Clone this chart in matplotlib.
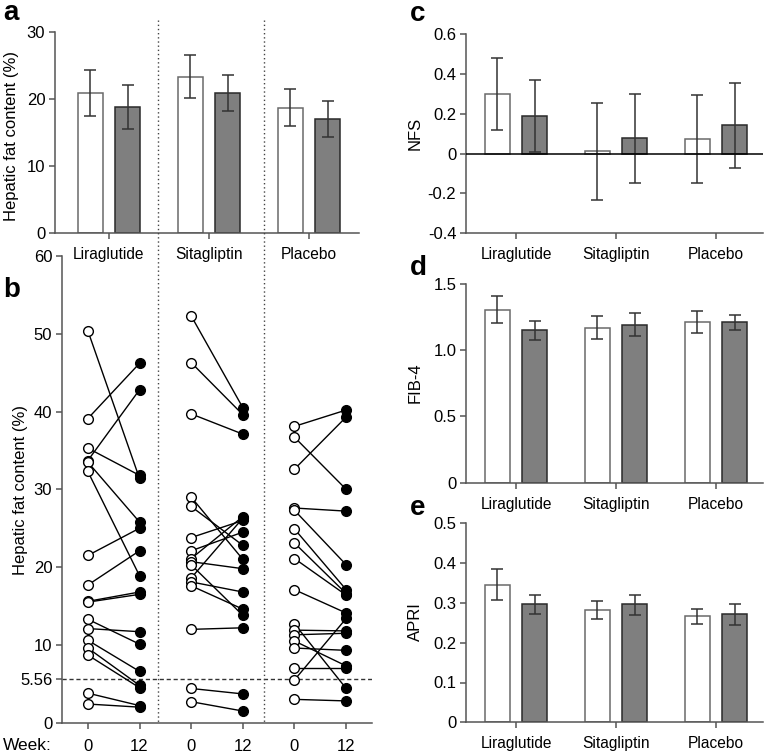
import matplotlib
matplotlib.use("Agg")
import matplotlib.pyplot as plt
from matplotlib.lines import Line2D

plt.rcParams['font.family'] = ['Liberation Sans', 'DejaVu Sans']
plt.rcParams['font.size'] = 12

groups = ["Liraglutide", "Sitagliptin", "Placebo"]

# Panel a: hepatic fat content (%), week 0 / week 12, mean with error bars
hfc_w0 = [20.9, 23.4, 18.75]
hfc_w0_lo = [17.5, 20.2, 16.0]
hfc_w0_hi = [24.3, 26.6, 21.5]
hfc_w12 = [18.8, 21.0, 17.1]
hfc_w12_lo = [15.5, 18.3, 14.3]
hfc_w12_hi = [22.1, 23.7, 19.75]

# Panel c: NFS
nfs_w0 = [0.298, 0.012, 0.072]
nfs_w0_lo = [0.119, -0.232, -0.148]
nfs_w0_hi = [0.481, 0.255, 0.293]
nfs_w12 = [0.189, 0.077, 0.143]
nfs_w12_lo = [0.01, -0.145, -0.07]
nfs_w12_hi = [0.369, 0.298, 0.357]

# Panel d: FIB-4
fib_w0 = [1.306, 1.170, 1.213]
fib_w0_lo = [1.203, 1.082, 1.133]
fib_w0_hi = [1.412, 1.256, 1.294]
fib_w12 = [1.153, 1.193, 1.211]
fib_w12_lo = [1.077, 1.107, 1.153]
fib_w12_hi = [1.223, 1.279, 1.264]

# Panel e: APRI
apri_w0 = [0.346, 0.282, 0.266]
apri_w0_lo = [0.307, 0.260, 0.248]
apri_w0_hi = [0.384, 0.304, 0.284]
apri_w12 = [0.296, 0.296, 0.271]
apri_w12_lo = [0.272, 0.270, 0.245]
apri_w12_hi = [0.321, 0.320, 0.296]

# Panel b: individual hepatic fat content, paired week 0 -> week 12
lira_w0 = [50.4, 39.1, 35.3, 33.7, 33.5, 32.3, 21.5, 17.7, 15.6, 15.5, 13.3, 12.1, 10.6, 9.6, 8.7, 3.8, 2.4]
lira_w12 = [31.4, 46.2, 31.8, 42.8, 25.8, 18.9, 25.0, 22.1, 16.8, 16.5, 10.1, 11.7, 6.6, 4.8, 4.5, 2.2, 2.0]
sita_w0 = [52.3, 46.3, 39.7, 29.0, 27.8, 23.8, 22.1, 21.1, 20.7, 20.3, 18.6, 18.1, 17.6, 12.0, 4.4, 2.7]
sita_w12 = [40.5, 39.6, 37.1, 21.0, 22.8, 26.0, 24.5, 26.5, 19.8, 13.8, 26.3, 16.8, 14.6, 12.2, 3.7, 1.5]
plac_w0 = [38.1, 36.7, 32.6, 27.6, 27.3, 24.9, 23.1, 21.1, 17.1, 12.7, 11.9, 11.3, 10.5, 9.6, 7.0, 5.5, 3.0]
plac_w12 = [40.2, 30.0, 39.3, 27.2, 20.3, 17.1, 16.6, 16.4, 14.1, 4.4, 11.8, 11.5, 7.3, 9.3, 7.0, 13.4, 2.8]
threshold = 5.56
week_labels = ["0", "12", "0", "12", "0", "12"]

W, H = 767, 754
fig = plt.figure(figsize=(W / 100, H / 100), dpi=100)


def rect(l, r, t, b):
    return [l / W, 1 - b / H, (r - l) / W, (b - t) / H]


def place_ylabel(ax, text, xc, yc):
    # xc: desired horizontal centre of the rotated label (px); label anchor is its right edge
    ax.set_ylabel(text)
    ax.yaxis.set_label_coords((xc + 7) / W, 1 - yc / H, transform=fig.transFigure)


SPINE = "#555555"
XTICK_FS = 11.2


def style(ax):
    for s in ["top", "right"]:
        ax.spines[s].set_visible(False)
    for s in ["left", "bottom"]:
        ax.spines[s].set_color(SPINE)
        ax.spines[s].set_linewidth(1.1)
    ax.tick_params(direction="out", length=4, width=1.1, color=SPINE, pad=3)
    ax.tick_params(axis="x", labelsize=XTICK_FS)


def bars(ax, w0, lo0, hi0, w12, lo12, hi12):
    xs = list(range(len(groups)))
    off, bw = 0.187, 0.25
    x0 = [x - off for x in xs]
    x1 = [x + off for x in xs]
    ax.bar(x0, w0, width=bw, color="white", edgecolor="#6a6a6a", linewidth=1.1, zorder=2)
    ax.bar(x1, w12, width=bw, color="#7f7f7f", edgecolor="#2a2a2a", linewidth=1.1, zorder=2)
    e0 = [[m - l for m, l in zip(w0, lo0)], [h - m for m, h in zip(w0, hi0)]]
    e1 = [[m - l for m, l in zip(w12, lo12)], [h - m for m, h in zip(w12, hi12)]]
    ax.errorbar(x0, w0, yerr=e0, fmt="none", ecolor="#333333", elinewidth=1.1, capsize=4, capthick=1.1, zorder=3)
    ax.errorbar(x1, w12, yerr=e1, fmt="none", ecolor="#333333", elinewidth=1.1, capsize=4, capthick=1.1, zorder=3)
    ax.set_xticks(xs)
    ax.set_xticklabels(groups)


# Panel b (added first so panel a labels stay on top)
axb = fig.add_axes(rect(62, 372, 256, 722.7))
axb.patch.set_visible(False)
series = [(lira_w0, lira_w12), (sita_w0, sita_w12), (plac_w0, plac_w12)]
for g, (a0, a12) in enumerate(series):
    xa, xb = 2 * g, 2 * g + 1
    for v0, v1 in zip(a0, a12):
        axb.plot([xa, xb], [v0, v1], color="black", lw=1.0, zorder=2)
    axb.plot([xa] * len(a0), a0, "o", ms=7, mfc="white", mec="black", mew=1.0, zorder=3, linestyle="none")
    axb.plot([xb] * len(a12), a12, "o", ms=7, mfc="black", mec="black", mew=1.0, zorder=3, linestyle="none")
axb.axhline(threshold, color="#333333", lw=1.0, ls=(0, (3, 2)), zorder=1)
axb.set_xlim(-0.5, 5.5)
axb.set_ylim(0, 60)
axb.set_yticks([0, threshold, 10, 20, 30, 40, 50, 60])
axb.set_yticklabels(["0", "5.56", "10", "20", "30", "40", "50", "60"])
axb.set_xticks(range(6))
axb.set_xticklabels(week_labels)
place_ylabel(axb, "Hepatic fat content (%)", 21, 490)
style(axb)
axb.tick_params(axis="x", pad=8, labelsize=12)
fig.text(3 / W, 1 - 745 / H, "Week:", ha="left", va="center", fontsize=12.5)

# Panel a
axa = fig.add_axes(rect(55, 359, 32.3, 233.3))
axa.patch.set_visible(False)
bars(axa, hfc_w0, hfc_w0_lo, hfc_w0_hi, hfc_w12, hfc_w12_lo, hfc_w12_hi)
axa.set_xlim(-0.54, 2.5)
axa.set_ylim(0, 30)
axa.set_yticks([0, 10, 20, 30])
place_ylabel(axa, "Hepatic fat content (%)", 12, 136)
style(axa)
axa.tick_params(axis="x", pad=6)

# Panel c
axc = fig.add_axes(rect(466, 763, 34.3, 233.3))
bars(axc, nfs_w0, nfs_w0_lo, nfs_w0_hi, nfs_w12, nfs_w12_lo, nfs_w12_hi)
axc.axhline(0, color="black", lw=1.1, zorder=4)
axc.set_xlim(-0.5, 2.47)
axc.set_ylim(-0.4, 0.6)
axc.set_yticks([-0.4, -0.2, 0, 0.2, 0.4, 0.6])
axc.set_yticklabels(["-0.4", "-0.2", "0", "0.2", "0.4", "0.6"])
place_ylabel(axc, "NFS", 416, 133)
style(axc)
axc.tick_params(axis="x", pad=6)

# Panel d
axd = fig.add_axes(rect(466, 763, 284, 482.7))
bars(axd, fib_w0, fib_w0_lo, fib_w0_hi, fib_w12, fib_w12_lo, fib_w12_hi)
axd.set_xlim(-0.5, 2.47)
axd.set_ylim(0, 1.5)
axd.set_yticks([0, 0.5, 1.0, 1.5])
axd.set_yticklabels(["0", "0.5", "1.0", "1.5"])
place_ylabel(axd, "FIB-4", 416, 383)
style(axd)
axd.tick_params(axis="x", pad=6)

# Panel e
axe = fig.add_axes(rect(466, 763, 523.3, 722.3))
bars(axe, apri_w0, apri_w0_lo, apri_w0_hi, apri_w12, apri_w12_lo, apri_w12_hi)
axe.set_xlim(-0.5, 2.47)
axe.set_ylim(0, 0.5)
axe.set_yticks([0, 0.1, 0.2, 0.3, 0.4, 0.5])
axe.set_yticklabels(["0", "0.1", "0.2", "0.3", "0.4", "0.5"])
place_ylabel(axe, "APRI", 416, 622)
style(axe)
axe.tick_params(axis="x", pad=6)

# Dotted separators spanning panels a and b
for xp in [158, 264]:
    fig.add_artist(Line2D([xp / W, xp / W], [1 - 20 / H, 1 - 722 / H], transform=fig.transFigure,
                          color="#444444", lw=1.0, ls=(0, (1, 2))))

# Panel letters
for lab, xp, yp in [("a", 3, 13), ("b", 3, 290), ("c", 410, 14), ("d", 410, 268), ("e", 410, 508)]:
    fig.text(xp / W, 1 - yp / H, lab, fontsize=20, fontweight="bold", ha="left", va="center")

fig.savefig("out.png", dpi=100)
